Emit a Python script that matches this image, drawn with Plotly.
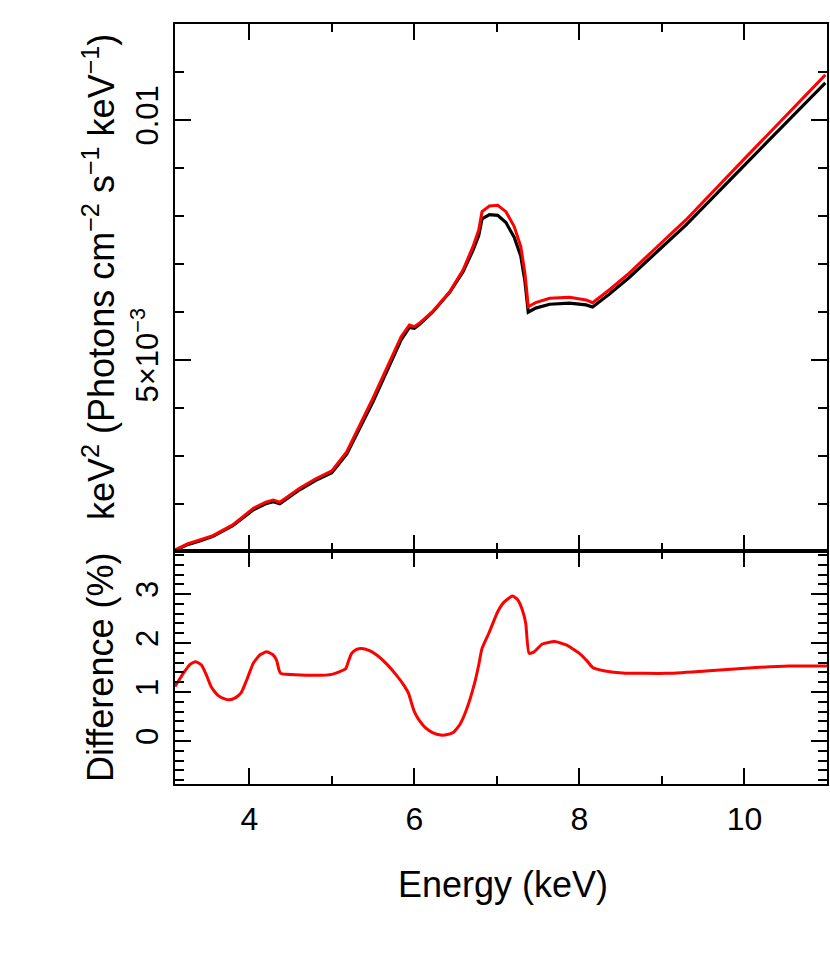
import plotly.graph_objects as go

# ---- data ----
energy = [3.10, 3.25, 3.40, 3.56, 3.80, 4.05, 4.20, 4.29, 4.37, 4.61, 4.80, 5.00,
          5.18, 5.50, 5.84, 5.94, 6.00, 6.06, 6.22, 6.43, 6.59, 6.71, 6.78, 6.82,
          6.91, 7.01, 7.11, 7.21, 7.29, 7.34, 7.38, 7.47, 7.64, 7.88, 8.08, 8.16,
          8.36, 8.60, 8.90, 9.29, 10.01, 10.58, 10.98]

model_black = [0.001029, 0.001153, 0.001230, 0.001326, 0.001550, 0.001880, 0.002004,
               0.002048, 0.002006, 0.002296, 0.002488, 0.002651, 0.003037, 0.004134,
               0.005418, 0.005677, 0.005660, 0.005738, 0.005996, 0.006415, 0.006841,
               0.007281, 0.007590, 0.007940, 0.008029, 0.008012, 0.007864, 0.007555,
               0.007163, 0.006642, 0.005996, 0.006081, 0.006161, 0.006186, 0.006148,
               0.006102, 0.006368, 0.006713, 0.007193, 0.007808, 0.009076, 0.010066,
               0.010775]

model_red = [0.001040, 0.001170, 0.001250, 0.001340, 0.001563, 0.001910, 0.002040,
             0.002083, 0.002035, 0.002327, 0.002521, 0.002688, 0.003083, 0.004208,
             0.005486, 0.005729, 0.005694, 0.005764, 0.006007, 0.006424, 0.006875,
             0.007360, 0.007708, 0.008090, 0.008208, 0.008223, 0.008090, 0.007778,
             0.007360, 0.006806, 0.006110, 0.006194, 0.006285, 0.006306, 0.006250,
             0.006194, 0.006458, 0.006806, 0.007292, 0.007917, 0.009210, 0.010220,
             0.010940]

diff_energy = [3.10, 3.20, 3.28, 3.35, 3.42, 3.48, 3.54, 3.62, 3.70, 3.76, 3.83, 3.90,
               3.97, 4.05, 4.13, 4.21, 4.28, 4.33, 4.36, 4.38, 4.45, 4.81, 5.00, 5.09,
               5.17, 5.20, 5.24, 5.30, 5.36, 5.45, 5.54, 5.66, 5.78, 5.88, 5.93, 5.97,
               6.00, 6.06, 6.14, 6.22, 6.32, 6.40, 6.47, 6.55, 6.63, 6.73, 6.78, 6.82,
               6.91, 7.01, 7.09, 7.19, 7.25, 7.31, 7.35, 7.39, 7.45, 7.55, 7.70, 7.84,
               8.00, 8.10, 8.16, 8.28, 8.52, 9.05, 9.53, 10.14, 10.54, 11.00]

difference_pct = [1.11, 1.38, 1.56, 1.62, 1.55, 1.35, 1.10, 0.93, 0.86, 0.84, 0.88, 0.98,
                  1.25, 1.59, 1.76, 1.82, 1.77, 1.65, 1.45, 1.38, 1.36, 1.34, 1.36, 1.41,
                  1.48, 1.62, 1.79, 1.87, 1.89, 1.85, 1.76, 1.58, 1.35, 1.12, 0.97, 0.75,
                  0.60, 0.42, 0.26, 0.17, 0.12, 0.13, 0.17, 0.33, 0.63, 1.18, 1.55, 1.89,
                  2.23, 2.64, 2.84, 2.96, 2.89, 2.67, 2.40, 1.79, 1.82, 1.98, 2.03, 1.96,
                  1.79, 1.62, 1.50, 1.44, 1.39, 1.38, 1.43, 1.50, 1.53, 1.53]

x_tickvals = [4, 6, 8, 10]
x_ticktext = ["4", "6", "8", "10"]
top_tickvals = [0.005, 0.01]
top_ticktext = ["5×10<sup>−3</sup>", "0.01"]
bot_tickvals = [0, 1, 2, 3]
bot_ticktext = ["0", "1", "2", "3"]

FONT = "Liberation Sans, Arial, Helvetica, sans-serif"

fig = go.Figure()
fig.add_trace(go.Scatter(x=energy, y=model_black, mode="lines",
                         line=dict(color="black", width=3.2), xaxis="x", yaxis="y",
                         showlegend=False))
fig.add_trace(go.Scatter(x=energy, y=model_red, mode="lines",
                         line=dict(color="#ff0000", width=3), xaxis="x", yaxis="y",
                         showlegend=False))
fig.add_trace(go.Scatter(x=diff_energy, y=difference_pct, mode="lines",
                         line=dict(color="#ff0000", width=3, shape="spline", smoothing=0.5),
                         xaxis="x2", yaxis="y2", showlegend=False))

split = (784 - 551) / 760.0

common_axis = dict(showline=True, linewidth=2, linecolor="black", mirror="ticks",
                   ticks="inside", tickwidth=2, tickcolor="black", showgrid=False,
                   zeroline=False, automargin=False)

fig.update_layout(
    width=830, height=959,
    margin=dict(l=175, r=3, t=24, b=175),
    paper_bgcolor="white", plot_bgcolor="white",
    font=dict(family=FONT, size=34, color="black"),
    xaxis=dict(domain=[0, 1], anchor="y", range=[3.1, 11.0], tickmode="array",
               tickvals=x_tickvals, ticktext=x_ticktext, ticklen=16,
               showticklabels=False,
               minor=dict(dtick=1, tick0=0, ticklen=8, ticks="inside",
                          tickwidth=2, tickcolor="black"),
               **common_axis),
    yaxis=dict(domain=[split, 1], anchor="x", range=[0.00102, 0.0120],
               tickmode="array", tickvals=top_tickvals, ticktext=top_ticktext,
               ticklen=16, tickangle=-90, ticklabelstandoff=3,
               tickfont=dict(size=31),
               minor=dict(dtick=0.001, tick0=0, ticklen=9, ticks="inside",
                          tickwidth=2, tickcolor="black"),
               **common_axis),
    xaxis2=dict(domain=[0, 1], anchor="y2", matches="x", range=[3.1, 11.0],
                tickmode="array", tickvals=x_tickvals, ticktext=x_ticktext,
                ticklen=16, ticklabelstandoff=6, tickfont=dict(size=32),
                minor=dict(dtick=1, tick0=0, ticklen=8, ticks="inside",
                           tickwidth=2, tickcolor="black"),
                **common_axis),
    yaxis2=dict(domain=[0, split], anchor="x2", range=[-0.88, 3.88],
                tickmode="array", tickvals=bot_tickvals, ticktext=bot_ticktext,
                ticklen=16, tickangle=-90, ticklabelstandoff=3,
                tickfont=dict(size=31),
                minor=dict(dtick=0.2, tick0=0, ticklen=9, ticks="inside",
                           tickwidth=2, tickcolor="black"),
                **common_axis),
)

def px_x(p):
    return (p - 175) / 652.0

def px_y(p):
    return (784 - p) / 760.0

fig.add_annotation(text="keV<sup>2</sup> (Photons cm<sup>−2</sup> s<sup>−1</sup> keV<sup>−1</sup>)",
                   xref="paper", yref="paper", x=px_x(99), y=px_y(277),
                   textangle=-90, showarrow=False, font=dict(size=36),
                   xanchor="center", yanchor="middle")
fig.add_annotation(text="Difference (%)", xref="paper", yref="paper",
                   x=px_x(100), y=px_y(668), textangle=-90, showarrow=False,
                   font=dict(size=36), xanchor="center", yanchor="middle")
fig.add_annotation(text="Energy (keV)", xref="paper", yref="paper",
                   x=px_x(503), y=px_y(884), showarrow=False,
                   font=dict(size=36), xanchor="center", yanchor="middle")

fig.write_html("out.html",
               config={"displayModeBar": False},
               post_script="document.body.style.margin='0';document.body.style.overflow='hidden';")
